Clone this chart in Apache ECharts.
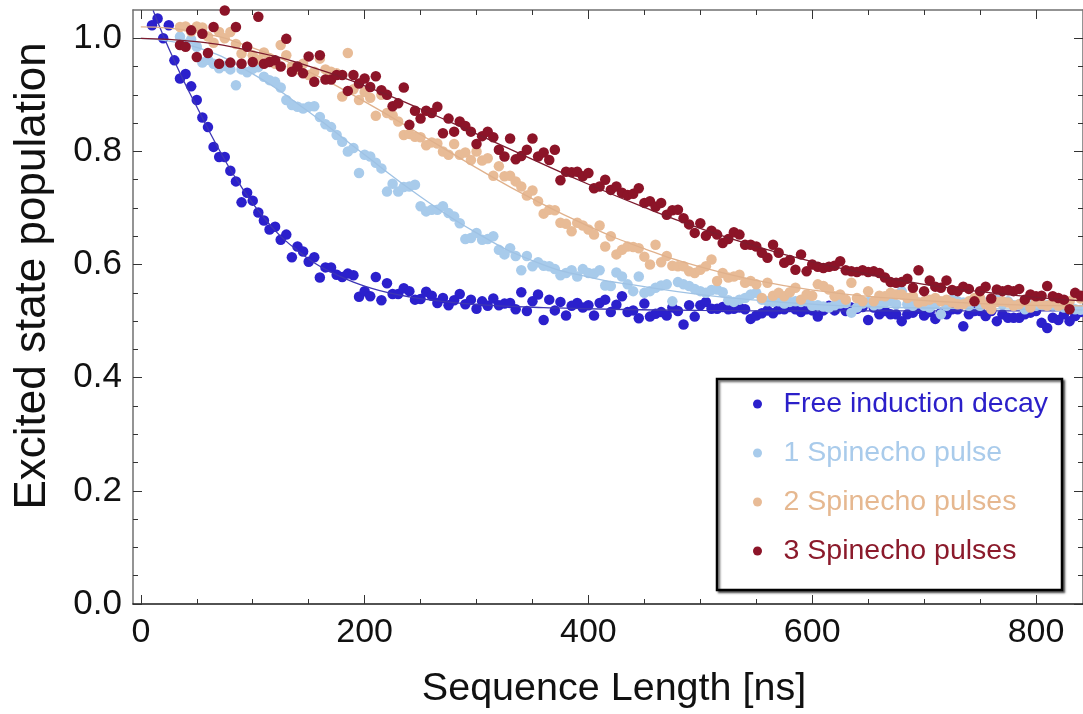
<!DOCTYPE html>
<html>
<head>
<meta charset="utf-8">
<script src="https://cdn.jsdelivr.net/npm/echarts@6.0.0/dist/echarts.min.js"></script>
<style>
  html, body { margin: 0; padding: 0; background: #fff; }
  #chart { width: 1083px; height: 714px; }
</style>
</head>
<body>
<div id="chart"></div>
<script>
// measurement grid: one point every 5 ns
const timeStep = 5
const fidStart = 10
const echoStart = 35

// Free induction decay, x = 10, 15, ... 840
const fidValues = [
  1.023, 1.035, 1.000, 1.023, 0.961, 0.929, 0.937, 0.915, 0.891, 0.860,
  0.843, 0.808, 0.790, 0.790, 0.766, 0.747, 0.710, 0.727, 0.713, 0.692,
  0.678, 0.662, 0.667, 0.644, 0.653, 0.613, 0.632, 0.623, 0.605, 0.613,
  0.577, 0.595, 0.595, 0.582, 0.578, 0.584, 0.581, 0.543, 0.553, 0.544,
  0.578, 0.537, 0.567, 0.548, 0.548, 0.558, 0.553, 0.538, 0.539, 0.552,
  0.545, 0.532, 0.541, 0.528, 0.537, 0.548, 0.530, 0.538, 0.522, 0.535,
  0.527, 0.540, 0.528, 0.531, 0.532, 0.521, 0.551, 0.518, 0.535, 0.547,
  0.502, 0.538, 0.519, 0.534, 0.510, 0.527, 0.532, 0.524, 0.528, 0.510,
  0.532, 0.538, 0.516, 0.529, 0.544, 0.516, 0.519, 0.505, 0.531, 0.508,
  0.513, 0.516, 0.510, 0.524, 0.518, 0.494, 0.528, 0.508, 0.528, 0.534,
  0.522, 0.522, 0.525, 0.521, 0.522, 0.524, 0.521, 0.504, 0.510, 0.514,
  0.519, 0.514, 0.521, 0.521, 0.525, 0.521, 0.516, 0.521, 0.519, 0.508,
  0.519, 0.527, 0.519, 0.527, 0.518, 0.524, 0.522, 0.525, 0.502, 0.524,
  0.512, 0.518, 0.512, 0.512, 0.500, 0.512, 0.515, 0.522, 0.510, 0.516,
  0.504, 0.515, 0.512, 0.521, 0.521, 0.491, 0.512, 0.518, 0.518, 0.509,
  0.518, 0.500, 0.512, 0.506, 0.506, 0.506, 0.512, 0.515, 0.518, 0.497,
  0.488, 0.506, 0.502, 0.512, 0.500, 0.509, 0.516
]

// spin echo series, x = 35, 40, ... 840
const echo1Values = [
  1.003, 0.990, 0.998, 0.985, 0.957, 0.962, 0.955, 0.947, 0.951, 0.945,
  0.917, 0.945, 0.940, 0.946, 0.949, 0.932, 0.926, 0.923, 0.913, 0.891,
  0.882, 0.879, 0.876, 0.879, 0.880, 0.861, 0.848, 0.843, 0.829, 0.817,
  0.800, 0.806, 0.762, 0.794, 0.791, 0.780, 0.770, 0.729, 0.743, 0.729,
  0.737, 0.738, 0.741, 0.703, 0.694, 0.697, 0.697, 0.703, 0.691, 0.685,
  0.673, 0.645, 0.647, 0.656, 0.644, 0.645, 0.650, 0.626, 0.618, 0.629,
  0.615, 0.590, 0.615, 0.597, 0.604, 0.598, 0.597, 0.592, 0.581, 0.585,
  0.590, 0.579, 0.592, 0.585, 0.584, 0.590, 0.563, 0.562, 0.586, 0.579,
  0.565, 0.553, 0.579, 0.550, 0.553, 0.559, 0.563, 0.565, 0.535, 0.569,
  0.565, 0.562, 0.557, 0.553, 0.550, 0.555, 0.556, 0.551, 0.537, 0.534,
  0.538, 0.541, 0.547, 0.550, 0.538, 0.535, 0.534, 0.535, 0.531, 0.534,
  0.535, 0.534, 0.535, 0.527, 0.528, 0.526, 0.524, 0.528, 0.531, 0.532,
  0.515, 0.524, 0.531, 0.534, 0.528, 0.530, 0.533, 0.535, 0.530, 0.553,
  0.530, 0.527, 0.533, 0.527, 0.524, 0.530, 0.512, 0.527, 0.538, 0.535,
  0.533, 0.527, 0.535, 0.527, 0.533, 0.530, 0.538, 0.530, 0.535, 0.528,
  0.530, 0.521, 0.533, 0.527, 0.530, 0.528, 0.528, 0.526, 0.524, 0.528,
  0.521, 0.520
]

const echo2Values = [
  1.020, 1.021, 1.012, 1.021, 1.019, 1.003, 0.992, 1.011, 1.000, 1.011,
  0.990, 0.973, 0.985, 0.970, 0.962, 0.975, 0.965, 0.955, 0.988, 0.970,
  0.950, 0.945, 0.955, 0.935, 0.941, 0.964, 0.945, 0.941, 0.938, 0.897,
  0.974, 0.910, 0.891, 0.905, 0.895, 0.863, 0.900, 0.868, 0.864, 0.853,
  0.829, 0.831, 0.826, 0.825, 0.811, 0.816, 0.814, 0.800, 0.794, 0.813,
  0.794, 0.798, 0.785, 0.800, 0.784, 0.788, 0.757, 0.774, 0.756, 0.757,
  0.747, 0.738, 0.722, 0.731, 0.712, 0.690, 0.697, 0.696, 0.674, 0.672,
  0.659, 0.674, 0.669, 0.662, 0.653, 0.669, 0.632, 0.650, 0.618, 0.626,
  0.632, 0.631, 0.629, 0.614, 0.600, 0.635, 0.604, 0.615, 0.598, 0.597,
  0.597, 0.588, 0.585, 0.591, 0.597, 0.609, 0.571, 0.585, 0.577, 0.579,
  0.582, 0.568, 0.571, 0.565, 0.541, 0.568, 0.545, 0.550, 0.544, 0.551,
  0.559, 0.538, 0.547, 0.545, 0.565, 0.562, 0.556, 0.544, 0.547, 0.538,
  0.568, 0.541, 0.535, 0.553, 0.535, 0.545, 0.544, 0.550, 0.547, 0.547,
  0.541, 0.544, 0.533, 0.535, 0.538, 0.541, 0.535, 0.538, 0.533, 0.530,
  0.530, 0.535, 0.541, 0.541, 0.530, 0.521, 0.534, 0.535, 0.533, 0.527,
  0.530, 0.535, 0.524, 0.535, 0.530, 0.527, 0.533, 0.527, 0.530, 0.535,
  0.547, 0.540
]

const echo3Values = [
  0.988, 0.985, 1.014, 0.967, 1.008, 0.974, 1.020, 0.955, 1.049, 0.957,
  1.020, 0.955, 0.985, 0.958, 1.038, 0.955, 0.958, 0.961, 0.950, 0.999,
  0.941, 0.950, 0.938, 0.968, 0.923, 0.970, 0.927, 0.927, 0.935, 0.935,
  0.907, 0.935, 0.920, 0.929, 0.914, 0.933, 0.908, 0.900, 0.880, 0.885,
  0.913, 0.847, 0.872, 0.858, 0.872, 0.868, 0.879, 0.832, 0.858, 0.835,
  0.853, 0.845, 0.835, 0.813, 0.827, 0.835, 0.825, 0.803, 0.791, 0.823,
  0.786, 0.792, 0.803, 0.823, 0.791, 0.798, 0.785, 0.803, 0.749, 0.764,
  0.763, 0.764, 0.756, 0.762, 0.735, 0.738, 0.750, 0.732, 0.738, 0.727,
  0.723, 0.725, 0.735, 0.709, 0.712, 0.702, 0.709, 0.688, 0.696, 0.697,
  0.682, 0.671, 0.656, 0.673, 0.651, 0.660, 0.653, 0.638, 0.645, 0.657,
  0.653, 0.635, 0.635, 0.632, 0.621, 0.612, 0.635, 0.621, 0.603, 0.608,
  0.591, 0.618, 0.588, 0.600, 0.596, 0.594, 0.596, 0.598, 0.606, 0.590,
  0.588, 0.587, 0.590, 0.587, 0.588, 0.585, 0.577, 0.569, 0.568, 0.569,
  0.575, 0.559, 0.590, 0.553, 0.572, 0.561, 0.559, 0.572, 0.555, 0.553,
  0.561, 0.557, 0.535, 0.553, 0.561, 0.540, 0.556, 0.553, 0.555, 0.553,
  0.557, 0.538, 0.547, 0.544, 0.545, 0.562, 0.544, 0.541, 0.538, 0.521,
  0.550, 0.545
]

// fitted curves
const fidFitX = [11, 20, 30, 40, 50, 60, 70, 80, 90, 100, 110, 120, 130, 140, 150, 160, 175, 190, 205, 220, 240, 260, 290, 320, 360, 420, 500, 600, 842]
const fidFitY = [1.049, 1.005, 0.960, 0.918, 0.879, 0.840, 0.803, 0.768, 0.737, 0.708, 0.683, 0.660, 0.641, 0.625, 0.610, 0.597, 0.582, 0.569, 0.559, 0.551, 0.543, 0.537, 0.531, 0.527, 0.524, 0.521, 0.519, 0.518, 0.518]
const echo1FitX = [0, 50, 100, 150, 200, 250, 300, 350, 400, 450, 500, 550, 600, 660, 750, 842]
const echo1FitY = [1.000, 0.984, 0.937, 0.870, 0.794, 0.720, 0.656, 0.607, 0.578, 0.561, 0.547, 0.537, 0.530, 0.525, 0.522, 0.520]
const echo2FitX = [0, 50, 100, 150, 200, 250, 300, 350, 400, 450, 500, 550, 600, 660, 750, 842]
const echo2FitY = [1.020, 1.011, 0.983, 0.941, 0.888, 0.830, 0.771, 0.716, 0.668, 0.628, 0.596, 0.572, 0.555, 0.542, 0.531, 0.527]
const echo3FitX = [0, 50, 100, 150, 200, 250, 300, 350, 400, 450, 500, 550, 600, 650, 700, 750, 800, 842]
const echo3FitY = [1.000, 0.994, 0.977, 0.951, 0.916, 0.875, 0.831, 0.786, 0.742, 0.701, 0.664, 0.632, 0.605, 0.583, 0.565, 0.552, 0.542, 0.536]

const xTicks = [0, 200, 400, 600, 800]
const xMinorTicks = [50, 100, 150, 250, 300, 350, 450, 500, 550, 650, 700, 750]
const yTicks = [0, 0.2, 0.4, 0.6, 0.8, 1.0]
const yMinorTicks = [0.05, 0.1, 0.15, 0.25, 0.3, 0.35, 0.45, 0.5, 0.55, 0.65, 0.7, 0.75, 0.85, 0.9, 0.95]

const seriesNames = ['Free induction decay', '1 Spinecho pulse', '2 Spinecho pulses', '3 Spinecho pulses']
const dotColors = ['#2b20cc', '#a8cbeb', '#e8bb96', '#8c1428']
const lineColors = ['#3d36b4', '#9fc2e4', '#e0b18c', '#7d1b2e']
const textColors = ['#2b1fc9', '#a9cbeb', '#e6b890', '#8b1a2b']

const FONT = '"Liberation Sans", Arial, sans-serif'
const X_MIN = -7, X_MAX = 842, Y_MIN = 0, Y_MAX = 1.05

const toPairs = (start, values) => values.map((v, i) => [start + i * timeStep, v])
const zip = (xs, ys) => xs.map((x, i) => [x, ys[i]])

const pointSets = [
  toPairs(fidStart, fidValues),
  toPairs(echoStart, echo1Values),
  toPairs(echoStart, echo2Values),
  toPairs(echoStart, echo3Values)
]
const fitSets = [
  zip(fidFitX, fidFitY),
  zip(echo1FitX, echo1FitY),
  zip(echo2FitX, echo2FitY),
  zip(echo3FitX, echo3FitY)
]

// frame side with inward ticks, no labels unless given
function frameAxis(pos, min, max, ticks, len, lineColor, extra) {
  return Object.assign({
    type: 'value', position: pos, min: min, max: max,
    axisLine: { show: !!lineColor, onZero: false, lineStyle: { color: lineColor || '#000', width: 1.5 } },
    axisTick: { show: true, inside: true, length: len, customValues: ticks, lineStyle: { color: '#333', width: 1 } },
    axisLabel: { show: false },
    splitLine: { show: false }
  }, extra || {})
}

const chart = echarts.init(document.getElementById('chart'))

const series = []
pointSets.forEach((pts, i) => {
  series.push({
    type: 'scatter', name: seriesNames[i], data: pts,
    symbolSize: 10.5, itemStyle: { color: dotColors[i], opacity: 1 },
    z: 2 + i * 2, silent: true
  })
  series.push({
    type: 'line', data: fitSets[i], showSymbol: false, smooth: true,
    lineStyle: { color: lineColors[i], width: 1.3 },
    z: 3 + i * 2, silent: true
  })
})

const option = {
  animation: false,
  backgroundColor: '#fff',
  grid: { left: 133, top: 10, width: 951, height: 595.5 },
  xAxis: [
    frameAxis('bottom', X_MIN, X_MAX, xTicks, 9, '#1a1a1a', {
      axisLabel: { show: true, customValues: xTicks, fontSize: 34, color: '#111', margin: 12, fontFamily: FONT },
      name: 'Sequence Length [ns]', nameLocation: 'middle', nameGap: 65,
      nameTextStyle: { fontSize: 39.5, color: '#111', fontFamily: FONT, padding: [0, 0, 0, 12] }
    }),
    frameAxis('top', X_MIN, X_MAX, xTicks, 9, '#707070'),
    frameAxis('bottom', X_MIN, X_MAX, xMinorTicks, 5, null),
    frameAxis('top', X_MIN, X_MAX, xMinorTicks, 5, null)
  ],
  yAxis: [
    frameAxis('left', Y_MIN, Y_MAX, yTicks, 9, '#707070', {
      axisLabel: { show: true, customValues: yTicks, fontSize: 35, color: '#111', margin: 11, fontFamily: FONT,
        formatter: v => v.toFixed(1) },
      name: 'Excited state population', nameLocation: 'middle', nameGap: 78, nameRotate: 90,
      nameTextStyle: { fontSize: 44, color: '#111', fontFamily: FONT, padding: [0, 0, 0, 62] }
    }),
    frameAxis('right', Y_MIN, Y_MAX, yTicks, 9, '#707070'),
    frameAxis('left', Y_MIN, Y_MAX, yMinorTicks, 5, null),
    frameAxis('right', Y_MIN, Y_MAX, yMinorTicks, 5, null)
  ],
  legend: {
    orient: 'vertical', left: 748, top: 384, z: 20,
    itemWidth: 42, itemHeight: 9, itemGap: 19, icon: 'circle',
    selectedMode: false,
    textStyle: { fontSize: 28.5, fontFamily: FONT, lineHeight: 30 },
    data: seriesNames.map((n, i) => ({ name: n, textStyle: { color: textColors[i] } }))
  },
  graphic: [{
    type: 'rect', z: 0,
    shape: { x: 717, y: 379, width: 345, height: 211 },
    style: { fill: '#fff', stroke: '#000', lineWidth: 2.5,
      shadowColor: 'rgba(0,0,0,0.55)', shadowBlur: 2, shadowOffsetX: 2, shadowOffsetY: 2 }
  }],
  series: series
}

chart.setOption(option)
</script>
</body>
</html>
